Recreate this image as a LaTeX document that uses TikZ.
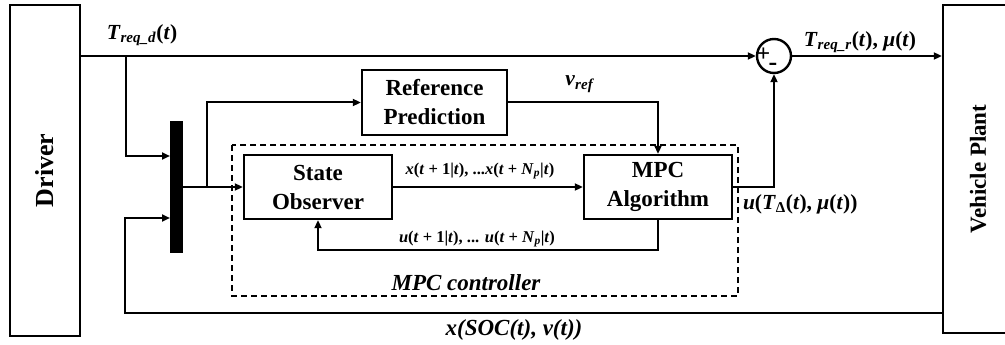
\documentclass[tikz,border=0pt]{standalone}
\usepackage{fontspec}
\setmainfont{Liberation Serif}
\usetikzlibrary{arrows.meta,calc}
\newcommand{\I}[1]{\textit{#1}}
\newcommand{\sbi}[1]{\textsubscript{\textit{#1}}}
\begin{document}
\begin{tikzpicture}[x=1pt,y=-1pt,line width=2pt,
  blk/.style={draw,line width=2.4pt,inner sep=0pt,align=center,
    font=\fontsize{23}{29}\selectfont\bfseries},
  arr/.style={-{Triangle[length=8pt,width=7pt]}},
  mlab/.style={inner sep=0pt,font=\fontsize{21.5}{22}\selectfont\bfseries},
  slab/.style={inner sep=0pt,font=\fontsize{16.5}{18}\selectfont\bfseries},
  btxt/.style={inner sep=0pt,font=\fontsize{23}{28}\selectfont\bfseries}]
\useasboundingbox (0,0) rectangle (1005,345);
% dashed controller frame
\draw[line width=1.5pt,dash pattern=on 6pt off 4pt] (232,145) rectangle (738,296);
% blocks
\node[blk,minimum width=70pt,minimum height=331pt] (drv) at (45,170.5) {};
\node[btxt,rotate=90,font=\fontsize{26}{28}\selectfont\bfseries] (drvt) at (drv.center) {Driver};
\node[blk,minimum width=70pt,minimum height=328pt] (veh) at (978,169) {};
\node[btxt,rotate=90] (veht) at (veh.center) {Vehicle Plant};
\node[blk,minimum width=145pt,minimum height=65pt] (ref) at (434.5,102.5) {Reference\\Prediction};
\node[blk,minimum width=148pt,minimum height=64pt] (obs) at (318,187) {State\\Observer};
\node[blk,minimum width=148pt,minimum height=64pt] (mpc) at (658,187) {MPC\\Algorithm};
\node[draw,fill=black,minimum width=11pt,minimum height=130pt,inner sep=0pt] (bar) at (176.5,187) {};
\node[draw,circle,line width=2.4pt,minimum size=34pt,inner sep=0pt] (sum) at (774,56) {};
\node[btxt,font=\fontsize{24}{24}\selectfont\bfseries] (plus) at (763.5,55) {+};
\node[btxt,font=\fontsize{26}{26}\selectfont\bfseries] (minus) at (773,67) {-};
% coordinates
\coordinate (br1) at (126,56);
\coordinate (in1) at (0,156);
\coordinate (in2) at (0,218);
\coordinate (br2) at (207,187);
\coordinate (fb) at (0,313);
\coordinate (fbx) at (125,313);
% connectors
\draw[arr] (drv.east |- sum.center) -- (sum.west);
\draw[arr] (br1) |- (bar.west |- in1);
\draw[arr] (bar.east) -- (obs.west);
\draw[arr] (br2) |- (ref.west);
\draw[arr] (ref.east) -| (mpc.north);
\draw[arr] (obs.east) -- (mpc.west);
\draw[arr] (mpc.south) -- ++(0,30) -| (obs.south);
\draw[arr] (mpc.east) -| (sum.south);
\draw[arr] (sum.east) -- (veh.west |- sum.east);
\draw[arr] (veh.west |- fb) -- (fbx) |- (bar.west |- in2);
% labels
\node[mlab] (l1) at (142,35) {\I{T}\sbi{req\_d}(\I{t})};
\node[mlab] (l2) at (580,84) {\I{v}\sbi{ref}};
\node[slab] (l3) at (480,171) {\I{x}(\I{t} + 1|\I{t}), ...\I{x}(\I{t} + \I{N}\sbi{p}|\I{t})};
\node[slab] (l4) at (477,239) {\I{u}(\I{t} + 1|\I{t}), ... \I{u}(\I{t} + \I{N}\sbi{p}|\I{t})};
\node[mlab,anchor=west] (l5) at (742,204) {\I{u}(\I{T}\textsubscript{Δ}(\I{t}), \I{μ}(\I{t}))};
\node[mlab] (l6) at (860,42) {\I{T}\sbi{req\_r}(\I{t}), \I{μ}(\I{t})};
\node[inner sep=0pt,font=\fontsize{23}{24}\selectfont\bfseries\itshape] (l7) at (466,283) {MPC controller};
\node[inner sep=0pt,font=\fontsize{23}{24}\selectfont\bfseries\itshape] (l8) at (514,330) {x(SOC(t), v(t))};
\end{tikzpicture}
\end{document}
